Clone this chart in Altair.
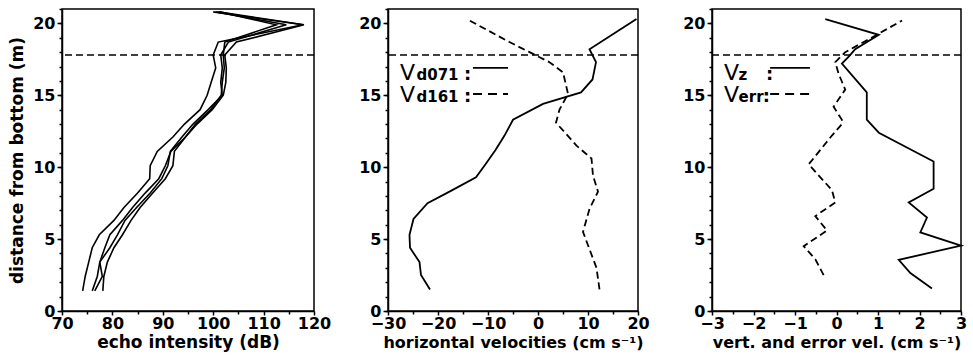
import altair as alt
import pandas as pd

FONT = "DejaVu Sans"

# ---------------- data ----------------
# Panel 1: echo intensity (dB), four beams
echo_depth = [1.4, 2.4, 3.4, 4.4, 5.3, 6.3, 7.2, 8.2, 9.2, 10.1, 11.1, 12.1, 13.0, 14.0, 15.0, 15.9, 16.9, 17.8, 18.7, 19.9, 20.8]
echo_beam1 = [74.1, 74.6, 75.3, 76.0, 77.4, 80.3, 82.3, 85.0, 87.4, 87.5, 88.9, 92.0, 94.3, 97.4, 98.8, 99.6, 100.5, 100.0, 101.0, 117.8, 100.0]
echo_beam2 = [76.0, 77.0, 77.5, 78.5, 79.5, 82.0, 84.0, 86.5, 89.2, 90.5, 91.6, 94.5, 96.5, 99.5, 101.6, 101.8, 102.2, 102.0, 102.3, 112.5, 101.3]
echo_beam3 = [78.1, 78.3, 79.0, 80.3, 82.0, 83.7, 85.5, 88.0, 90.5, 92.0, 92.3, 94.5, 96.8, 99.8, 102.0, 102.5, 102.6, 102.3, 104.6, 118.0, 101.0]
echo_beam4 = [76.5, 78.0, 77.5, 79.5, 81.0, 82.5, 84.8, 87.5, 89.8, 91.0, 91.5, 93.8, 96.0, 99.0, 101.8, 101.5, 101.8, 101.5, 103.0, 114.5, 100.5]

# Panel 2: horizontal velocities (cm/s)
vd071_depth = [1.5, 2.5, 3.4, 4.4, 5.3, 6.4, 7.5, 8.3, 9.3, 10.2, 11.2, 12.2, 13.3, 14.4, 15.2, 16.1, 17.3, 18.2, 20.3]
vd071 = [-21.6, -23.4, -23.7, -25.6, -25.7, -24.9, -22.1, -17.7, -12.4, -10.5, -8.5, -6.7, -5.0, 1.0, 8.6, 10.9, 11.6, 10.3, 19.7]
vd161_depth = [1.5, 3.0, 5.5, 7.1, 8.3, 9.4, 10.6, 11.5, 13.1, 14.0, 15.1, 16.6, 17.3, 18.0, 18.7, 20.2]
vd161 = [12.3, 11.7, 9.0, 10.3, 12.0, 11.0, 10.7, 7.7, 3.6, 4.3, 6.0, 5.0, 2.3, -1.7, -5.7, -13.7]

# Panel 3: vertical and error velocities (cm/s)
vz_depth = [1.57, 2.64, 3.56, 4.54, 5.46, 6.5, 7.55, 8.5, 10.4, 12.4, 13.3, 15.2, 17.2, 17.7, 18.2, 19.2, 20.3]
vz = [2.30, 1.78, 1.50, 3.0, 2.02, 2.18, 1.74, 2.34, 2.34, 1.02, 0.73, 0.73, 0.13, 0.30, 0.45, 1.02, -0.27]
verr_depth = [2.5, 3.6, 4.5, 5.6, 6.6, 7.55, 8.4, 10.2, 12.2, 13.0, 13.3, 14.2, 15.4, 16.5, 17.3, 18.0, 18.9, 20.2]
verr = [-0.31, -0.51, -0.79, -0.23, -0.51, -0.03, -0.11, -0.67, -0.11, 0.13, 0.13, -0.07, 0.21, 0.05, -0.03, 0.21, 0.78, 1.58]

interface_depth = 17.8

x1_ticks = [70, 80, 90, 100, 110, 120]
x2_ticks = [-30, -20, -10, 0, 10, 20]
x3_ticks = [-3, -2, -1, 0, 1, 2, 3]
y_ticks = [0, 5, 10, 15, 20]
y_minor = list(range(0, 22))
x1_minor = [75, 85, 95, 105, 115]
x2_minor = [-25, -15, -5, 5, 15]
x3_minor = [-2.5, -1.5, -0.5, 0.5, 1.5, 2.5]

# legend annotations (data coordinates)
leg2_text = pd.DataFrame({"v": [-27.6, -27.6], "depth": [16.06, 14.53]})
leg2_sub = pd.DataFrame({"v": [-24.3, -24.3], "depth": [16.06, 14.53], "t": ["d071", "d161"]})
leg2_colon = pd.DataFrame({"v": [-14.8, -14.8], "depth": [16.06, 14.53]})
leg2_line = pd.DataFrame({"v": [-13.0], "v2": [-6.0], "depth": [16.9]})
leg2_dash = pd.DataFrame({"v": [-13.0], "v2": [-6.0], "depth": [15.09]})

leg3_text = pd.DataFrame({"v": [-2.71, -2.71], "depth": [16.06, 14.53]})
leg3_sub = pd.DataFrame({"v": [-2.36, -2.36], "depth": [16.06, 14.53], "t": ["z", "err"]})
leg3_colon = pd.DataFrame({"v": [-1.70, -1.78], "depth": [16.06, 14.53]})
leg3_line = pd.DataFrame({"v": [-1.6], "v2": [-0.64], "depth": [16.9]})
leg3_dash = pd.DataFrame({"v": [-1.6], "v2": [-0.64], "depth": [15.09]})

# ---------------- tables ----------------
echo_df = pd.concat([
    pd.DataFrame({"depth": echo_depth, "v": vals, "beam": name})
    for name, vals in [("b1", echo_beam1), ("b2", echo_beam2), ("b3", echo_beam3), ("b4", echo_beam4)]
])
vd071_df = pd.DataFrame({"depth": vd071_depth, "v": vd071})
vd161_df = pd.DataFrame({"depth": vd161_depth, "v": vd161})
vz_df = pd.DataFrame({"depth": vz_depth, "v": vz})
verr_df = pd.DataFrame({"depth": verr_depth, "v": verr})

DASH = [7, 4]
LW = 1.8


def yscale():
    return alt.Scale(domain=[0, 21], nice=False, zero=False)


def main_axes(xticks, xtitle, ytitle, xtitle_size=16):
    x_axis = alt.Axis(values=xticks, title=xtitle, tickSize=4, grid=False,
                      labelPadding=0, titlePadding=3, titleFontSize=xtitle_size)
    if ytitle:
        y_axis = alt.Axis(values=y_ticks, title=ytitle, tickSize=5, grid=False,
                          labelPadding=2, titlePadding=6, titleFontSize=17)
    else:
        y_axis = alt.Axis(values=y_ticks, title=None, tickSize=5, grid=False, labelPadding=2)
    return x_axis, y_axis


def minor_layer(df, xscale, xminor):
    return alt.Chart(df).mark_point(opacity=0).encode(
        x=alt.X("v:Q", scale=xscale, axis=alt.Axis(orient="bottom", values=xminor, labels=False, domain=False,
                                                   tickSize=3, title=None, grid=False)),
        y=alt.Y("depth:Q", scale=yscale(), axis=alt.Axis(orient="left", values=y_minor, labels=False,
                                                         domain=False, tickSize=3, title=None, grid=False)),
    )


def rule_layer(df):
    return alt.Chart(df).mark_rule(color="black", strokeDash=DASH, strokeWidth=1.6).encode(
        y=alt.Y("depth:Q", scale=yscale(), axis=None)
    )


def legend_layers(texts, subs, colons, line, dash, xscale):
    ax = dict(scale=xscale, axis=None)
    ay = dict(scale=yscale(), axis=None)
    v_txt = alt.Chart(texts).mark_text(text="V", font=FONT, fontSize=22, align="left", baseline="alphabetic",
                                       color="black").encode(x=alt.X("v:Q", **ax), y=alt.Y("depth:Q", **ay))
    sub_txt = alt.Chart(subs).mark_text(font=FONT, fontSize=15, fontWeight="bold", align="left",
                                        baseline="alphabetic", color="black").encode(
        x=alt.X("v:Q", **ax), y=alt.Y("depth:Q", **ay), text="t:N")
    col_txt = alt.Chart(colons).mark_text(text=":", font=FONT, fontSize=18, fontWeight="bold", align="left",
                                          baseline="alphabetic", color="black").encode(
        x=alt.X("v:Q", **ax), y=alt.Y("depth:Q", **ay))
    l1 = alt.Chart(line).mark_rule(color="black", strokeWidth=LW).encode(
        x=alt.X("v:Q", **ax), x2="v2", y=alt.Y("depth:Q", **ay))
    l2 = alt.Chart(dash).mark_rule(color="black", strokeWidth=LW, strokeDash=[9, 6]).encode(
        x=alt.X("v:Q", **ax), x2="v2", y=alt.Y("depth:Q", **ay))
    return [v_txt, sub_txt, col_txt, l1, l2]


rule_df = pd.DataFrame({"depth": [interface_depth]})

# ---- panel 1 ----
xs1 = alt.Scale(domain=[70, 120], nice=False, zero=False)
xa1, ya1 = main_axes(x1_ticks, "echo intensity (dB)", "distance from bottom (m)", xtitle_size=17)
p1_lines = alt.Chart(echo_df).mark_line(color="black", strokeWidth=1.6).encode(
    x=alt.X("v:Q", scale=xs1, axis=xa1),
    y=alt.Y("depth:Q", scale=yscale(), axis=ya1),
    detail="beam:N",
    order=alt.Order("depth:Q"),
)
p1 = alt.layer(p1_lines, rule_layer(rule_df), minor_layer(echo_df, xs1, x1_minor)).resolve_axis(
    x="independent", y="independent").properties(width=252, height=302)

# ---- panel 2 ----
xs2 = alt.Scale(domain=[-30, 20], nice=False, zero=False)
xa2, ya2 = main_axes(x2_ticks, "horizontal velocities (cm s\u207b\u00b9)", None)
p2_solid = alt.Chart(vd071_df).mark_line(color="black", strokeWidth=LW).encode(
    x=alt.X("v:Q", scale=xs2, axis=xa2),
    y=alt.Y("depth:Q", scale=yscale(), axis=ya2),
    order=alt.Order("depth:Q"),
)
p2_dash = alt.Chart(vd161_df).mark_line(color="black", strokeWidth=LW, strokeDash=DASH).encode(
    x=alt.X("v:Q", scale=xs2, axis=None),
    y=alt.Y("depth:Q", scale=yscale(), axis=None),
    order=alt.Order("depth:Q"),
)
p2 = alt.layer(p2_solid, p2_dash, rule_layer(rule_df),
               *legend_layers(leg2_text, leg2_sub, leg2_colon, leg2_line, leg2_dash, xs2),
               minor_layer(vd071_df, xs2, x2_minor)).resolve_axis(
    x="independent", y="independent").properties(width=250, height=302)

# ---- panel 3 ----
xs3 = alt.Scale(domain=[-3, 3], nice=False, zero=False)
xa3, ya3 = main_axes(x3_ticks, "vert. and error vel. (cm s\u207b\u00b9)", None)
p3_solid = alt.Chart(vz_df).mark_line(color="black", strokeWidth=LW).encode(
    x=alt.X("v:Q", scale=xs3, axis=xa3),
    y=alt.Y("depth:Q", scale=yscale(), axis=ya3),
    order=alt.Order("depth:Q"),
)
p3_dash = alt.Chart(verr_df).mark_line(color="black", strokeWidth=LW, strokeDash=DASH).encode(
    x=alt.X("v:Q", scale=xs3, axis=None),
    y=alt.Y("depth:Q", scale=yscale(), axis=None),
    order=alt.Order("depth:Q"),
)
p3 = alt.layer(p3_solid, p3_dash, rule_layer(rule_df),
               *legend_layers(leg3_text, leg3_sub, leg3_colon, leg3_line, leg3_dash, xs3),
               minor_layer(vz_df, xs3, x3_minor)).resolve_axis(
    x="independent", y="independent").properties(width=249, height=302)

chart = alt.hconcat(p1, p2, p3, spacing=74, bounds="flush").properties(
    padding={"left": 7, "top": 7, "right": 5, "bottom": 3}
).configure(
    background="white"
).configure_view(
    stroke="black", strokeWidth=1.5
).configure_axis(
    labelFont=FONT, labelFontSize=16, labelFontWeight="bold", labelColor="black",
    labelFlush=False, labelOverlap=False,
    titleFont=FONT, titleFontSize=16, titleFontWeight="bold", titleColor="black",
    domainColor="black", domainWidth=1.5, tickColor="black", tickWidth=1.5,
)

chart.save("out.html", embed_options={"renderer": "svg", "actions": False})
